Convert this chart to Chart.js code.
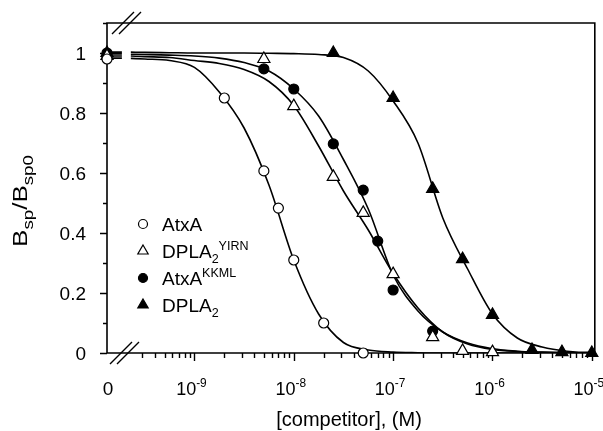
<!DOCTYPE html>
<html>
<head>
<meta charset="utf-8">
<script src="https://cdn.jsdelivr.net/npm/chart.js@4.4.1/dist/chart.umd.min.js"></script>
<style>
  html, body { margin: 0; padding: 0; background: #fff; }
</style>
</head>
<body>
<canvas id="chart" width="603" height="431"></canvas>
<script>
// where the "0" concentration sits on the broken log axis, and the right end
const ZERO_X = Math.pow(10, -9.88);
const X_MAX = Math.pow(10, -4.97);

// measured points: competitor concentration (M), 0 = no competitor
const atxaX = [0, 2e-9, 5e-9, 7e-9, 1e-8, 2e-8, 5e-8];
const atxaY = [0.98, 0.85, 0.607, 0.483, 0.31, 0.10, 0.0];
const yirnX = [0, 5e-9, 1e-8, 2.5e-8, 5e-8, 1e-7, 2.5e-7, 5e-7, 1e-6];
const yirnY = [0.99, 0.98, 0.823, 0.587, 0.467, 0.263, 0.053, 0.007, 0.003];
const kkmlX = [0, 5e-9, 1e-8, 2.5e-8, 5e-8, 7e-8, 1e-7, 2.5e-7];
const kkmlY = [1.0, 0.947, 0.88, 0.697, 0.543, 0.373, 0.21, 0.073];
const dplaX = [0, 2.5e-8, 1e-7, 2.5e-7, 5e-7, 1e-6, 2.5e-6, 5e-6, 1e-5];
const dplaY = [1.0, 1.0, 0.85, 0.547, 0.313, 0.127, 0.01, 0.003, 0.0];

// fitted curves (log10 of concentration); null = axis break
const curveLogX = [-9.88, -9.73, -9.69, -9.64, -9.5, -9.25, -9, -8.75, -8.5, -8.25, -8,
  -7.75, -7.5, -7.25, -7, -6.75, -6.5, -6.25, -6, -5.75, -5.5, -5.25, -5, -4.97];
const atxaFit = [0.983, 0.983, null, 0.982, 0.98, 0.975, 0.952, 0.87, 0.75, 0.56, 0.31,
  0.13, 0.035, 0.01, 0.003, 0.001, 0, 0, 0, 0, 0, 0, 0, 0];
const yirnFit = [0.99, 0.99, null, 0.99, 0.988, 0.985, 0.975, 0.965, 0.945, 0.905, 0.825,
  0.69, 0.54, 0.41, 0.265, 0.15, 0.07, 0.03, 0.012, 0.005, 0.002, 0.001, 0, 0];
const kkmlFit = [0.997, 0.997, null, 0.996, 0.995, 0.993, 0.99, 0.983, 0.968, 0.94, 0.88,
  0.79, 0.645, 0.48, 0.26, 0.14, 0.07, 0.033, 0.014, 0.006, 0.003, 0.001, 0, 0];
const dplaFit = [1.003, 1.003, null, 1.003, 1.002, 1.001, 1.0, 1.0, 1.0, 0.999, 0.998,
  0.995, 0.985, 0.94, 0.84, 0.70, 0.45, 0.28, 0.13, 0.05, 0.02, 0.006, 0.002, 0.002];

// axis ticks
const yMajor = [0, 0.2, 0.4, 0.6, 0.8, 1];
const yLabels = ["0", "0.2", "0.4", "0.6", "0.8", "1"];
const yMinor = [0.1, 0.3, 0.5, 0.7, 0.9, 1.1];
const xDecades = [1e-9, 1e-8, 1e-7, 1e-6, 1e-5];
const xExponents = ["-9", "-8", "-7", "-6", "-5"];

const FONT = "'Liberation Sans', Arial, Helvetica, sans-serif";

const toPts = (xs, ys) => xs.map((v, i) => ({ x: v === 0 ? ZERO_X : v, y: ys[i] }));
const curvePts = (ys) => curveLogX.map((l, i) => ({ x: Math.pow(10, l), y: ys[i] }));

const legendItems = [
  { style: "circle", fill: "#fff", parts: [{ t: "AtxA" }] },
  { style: "triangle", fill: "#fff", parts: [{ t: "DPLA" }, { t: "2", sub: true }, { t: "YIRN", sup: true }] },
  { style: "circle", fill: "#000", parts: [{ t: "AtxA" }, { t: "KKML", sup: true }] },
  { style: "triangle", fill: "#000", parts: [{ t: "DPLA" }, { t: "2", sub: true }] },
];

// draws text with sub/superscripts, returns total width
function richText(ctx, parts, x, y, size, measureOnly, smallRatio) {
  const ratio = smallRatio || 0.66;
  let cx = x;
  parts.forEach((p) => {
    const small = p.sub || p.sup;
    const fs = small ? size * ratio : size;
    ctx.font = fs + "px " + FONT;
    let dy = 0;
    if (p.sub) dy = size * 0.28;
    if (p.sup) dy = -size * 0.42;
    if (!measureOnly) ctx.fillText(p.t, cx, y + dy);
    cx += ctx.measureText(p.t).width;
  });
  return cx - x;
}

function marker(ctx, style, fill, x, y, r) {
  ctx.beginPath();
  if (style === "circle") {
    ctx.arc(x, y, r, 0, Math.PI * 2);
  } else {
    ctx.moveTo(x, y - r);
    ctx.lineTo(x + r * 0.866, y + r * 0.5);
    ctx.lineTo(x - r * 0.866, y + r * 0.5);
    ctx.closePath();
  }
  ctx.fillStyle = fill;
  ctx.fill();
  ctx.lineWidth = 1.2;
  ctx.strokeStyle = "#000";
  ctx.stroke();
}

const brokenAxis = {
  id: "brokenAxis",
  beforeDatasetsDraw(chart) {
    const { ctx, chartArea: a, scales } = chart;
    const x = scales.x, y = scales.y;
    ctx.save();
    ctx.strokeStyle = "#000";
    ctx.fillStyle = "#000";

    // frame
    ctx.lineWidth = 1.6;
    ctx.beginPath();
    ctx.moveTo(a.left, a.bottom);
    ctx.lineTo(a.left, a.top);
    ctx.lineTo(a.right, a.top);
    ctx.lineTo(a.right, a.bottom);
    ctx.lineTo(a.left, a.bottom);
    ctx.stroke();

    // y ticks
    ctx.lineWidth = 1.4;
    ctx.beginPath();
    yMajor.forEach((v) => {
      const py = Math.round(y.getPixelForValue(v)) + 0.5;
      ctx.moveTo(a.left - 7, py);
      ctx.lineTo(a.left, py);
    });
    yMinor.forEach((v) => {
      const py = Math.round(y.getPixelForValue(v)) + 0.5;
      ctx.moveTo(a.left - 4, py);
      ctx.lineTo(a.left, py);
    });

    // x ticks
    xDecades.forEach((v) => {
      const px = Math.round(x.getPixelForValue(v)) + 0.5;
      ctx.moveTo(px, a.bottom);
      ctx.lineTo(px, a.bottom + 8);
    });
    for (let d = -10; d <= -6; d++) {
      for (let m = 2; m <= 9; m++) {
        const v = m * Math.pow(10, d);
        if (v < 2.9e-10) continue; // inside the break
        const px = Math.round(x.getPixelForValue(v)) + 0.5;
        ctx.moveTo(px, a.bottom);
        ctx.lineTo(px, a.bottom + 5);
      }
    }
    ctx.stroke();

    // tick labels
    ctx.font = "19px " + FONT;
    ctx.textAlign = "right";
    ctx.textBaseline = "alphabetic";
    yMajor.forEach((v, i) => {
      ctx.fillText(yLabels[i], 86, y.getPixelForValue(v) + 7);
    });
    ctx.textAlign = "center";
    ctx.fillText("0", a.left + 1, 395);
    ctx.textAlign = "left";
    xDecades.forEach((v, i) => {
      const px = x.getPixelForValue(v);
      const parts = [{ t: "10" }, { t: xExponents[i], sup: true }];
      const w = richText(ctx, parts, 0, 0, 18, true);
      richText(ctx, parts, px - 3 - w / 2, 395, 18);
    });
    ctx.restore();
  },
  afterDraw(chart) {
    const { ctx, chartArea: a } = chart;
    ctx.save();
    ctx.fillStyle = "#000";
    ctx.strokeStyle = "#000";

    // axis break marks
    ctx.lineWidth = 1.4;
    ctx.beginPath();
    [[a.top, 0], [a.bottom, -2]].forEach(([py, off]) => {
      [123, 130].forEach((cx) => {
        ctx.moveTo(cx + off - 11, py + 11);
        ctx.lineTo(cx + off + 11, py - 11);
      });
    });
    ctx.stroke();

    // axis titles
    ctx.textAlign = "left";
    ctx.textBaseline = "alphabetic";
    ctx.font = "20px " + FONT;
    const xt = "[competitor], (M)";
    const xw = ctx.measureText(xt).width;
    ctx.fillText(xt, 349 - xw / 2, 426);

    const yParts = [{ t: "B" }, { t: "sp", sub: true }, { t: "/B" }, { t: "sp0", sub: true }];
    const yw = richText(ctx, yParts, 0, 0, 20, true, 0.72);
    const stretch = 1.3;
    ctx.save();
    ctx.translate(27, 201);
    ctx.rotate(-Math.PI / 2);
    ctx.scale(stretch, 1);
    richText(ctx, yParts, -yw / 2, 0, 20, false, 0.72);
    ctx.restore();

    // legend
    legendItems.forEach((item, i) => {
      const cy = 224 + i * 27;
      marker(ctx, item.style, item.fill, 143, cy, item.style === "circle" ? 4.5 : 6);
      ctx.fillStyle = "#000";
      richText(ctx, item.parts, 162, cy + 7, 19);
    });
    ctx.restore();
  },
};

const curveStyle = {
  showLine: true,
  borderColor: "#000",
  borderWidth: 1.6,
  pointRadius: 0,
  cubicInterpolationMode: "monotone",
  spanGaps: false,
  order: 10,
};
const pointStyle = (style, fill, r) => ({
  showLine: false,
  pointStyle: style,
  pointRadius: r,
  backgroundColor: fill,
  borderColor: "#000",
  borderWidth: 1.2,
  clip: false,
});

new Chart(document.getElementById("chart"), {
  type: "scatter",
  data: {
    datasets: [
      { label: "AtxA", data: toPts(atxaX, atxaY), ...pointStyle("circle", "#fff", 5), order: 1 },
      { label: "DPLA2 YIRN", data: toPts(yirnX, yirnY), ...pointStyle("triangle", "#fff", 7), order: 2 },
      { label: "AtxA KKML", data: toPts(kkmlX, kkmlY), ...pointStyle("circle", "#000", 5), order: 3 },
      { label: "DPLA2", data: toPts(dplaX, dplaY), ...pointStyle("triangle", "#000", 7), order: 4 },
      { label: "AtxA fit", data: curvePts(atxaFit), ...curveStyle },
      { label: "YIRN fit", data: curvePts(yirnFit), ...curveStyle },
      { label: "KKML fit", data: curvePts(kkmlFit), ...curveStyle },
      { label: "DPLA2 fit", data: curvePts(dplaFit), ...curveStyle },
    ],
  },
  options: {
    responsive: false,
    animation: false,
    layout: { padding: { left: 107, top: 23, right: 7, bottom: 78 } },
    plugins: { legend: { display: false }, tooltip: { enabled: false } },
    scales: {
      x: { type: "logarithmic", min: ZERO_X, max: X_MAX, display: false },
      y: { min: 0, max: 1.1, display: false },
    },
  },
  plugins: [brokenAxis],
});
</script>
</body>
</html>
